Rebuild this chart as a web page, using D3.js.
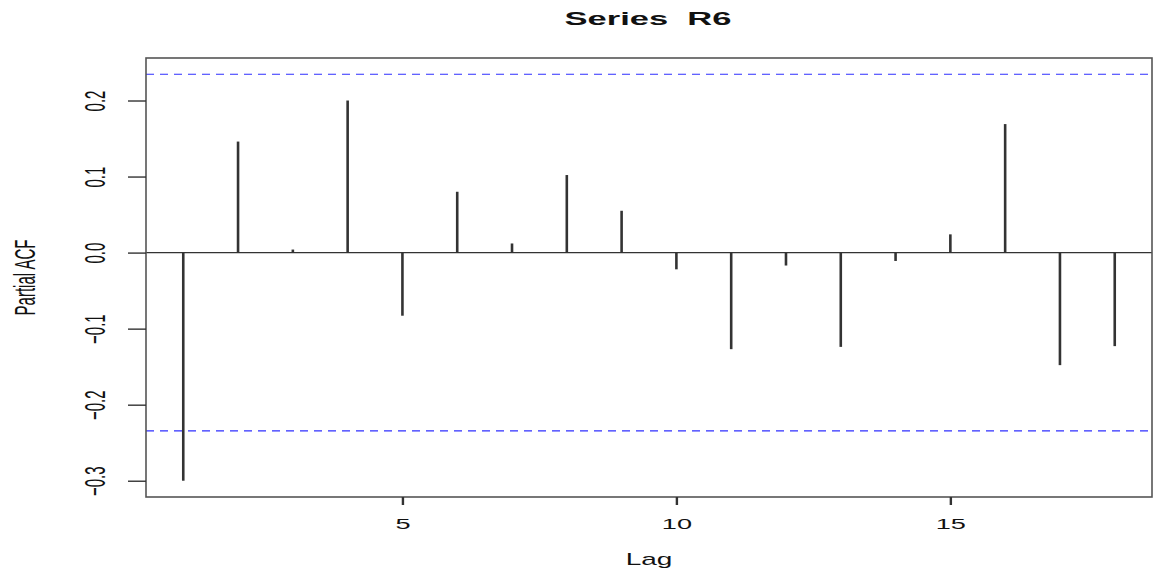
<!DOCTYPE html>
<html>
<head>
<meta charset="utf-8">
<script src="https://cdn.jsdelivr.net/npm/d3@7"></script>
<style>
  body { margin: 0; background: #fff; }
  svg { display: block; }
  text { font-family: "Liberation Sans", Arial, sans-serif; fill: #111; }
</style>
</head>
<body>
<div id="graph"></div>
<script>
// partial autocorrelation, lags 1..18
let lags = [1, 2, 3, 4, 5, 6, 7, 8, 9, 10, 11, 12, 13, 14, 15, 16, 17, 18];
let pacf = [-0.300, 0.146, 0.004, 0.200, -0.083, 0.080, 0.012, 0.102, 0.055,
            -0.022, -0.127, -0.017, -0.124, -0.011, 0.024, 0.169, -0.148, -0.123];
let clim = [0.2345, -0.2345];
let xTicks = [5, 10, 15];
let yTicks = [-0.3, -0.2, -0.1, 0.0, 0.1, 0.2];

let width = 1154, height = 571;
let margin = {top: 58, right: 2, bottom: 74, left: 146};
let sx = 1.75;   // the picture is stretched sideways

let svg = d3.select("#graph")
    .append("svg")
    .attr("width", width)
    .attr("height", height);

let x = d3.scaleLinear()
    .domain([0.32, 18.68])
    .range([margin.left, width - margin.right]);

let y = d3.scaleLinear()
    .domain([-0.3214, 0.2559])
    .range([height - margin.bottom, margin.top]);

// zero line
svg.append("line")
    .attr("x1", margin.left).attr("x2", width - margin.right)
    .attr("y1", y(0)).attr("y2", y(0))
    .attr("stroke", "#333").attr("stroke-width", 1.2);

// confidence limits
svg.selectAll(".clim").data(clim).enter()
    .append("line")
    .attr("class", "clim")
    .attr("x1", margin.left).attr("x2", width - margin.right)
    .attr("y1", d => y(d)).attr("y2", d => y(d))
    .attr("stroke", "#2f2fff").attr("stroke-width", 1.2)
    .attr("stroke-dasharray", "8,6");

// spikes
svg.selectAll(".spike").data(pacf).enter()
    .append("line")
    .attr("class", "spike")
    .attr("x1", (d, i) => x(lags[i])).attr("x2", (d, i) => x(lags[i]))
    .attr("y1", y(0)).attr("y2", d => y(d))
    .attr("stroke", "#333").attr("stroke-width", 2.6);

// frame
svg.append("rect")
    .attr("x", margin.left).attr("y", margin.top)
    .attr("width", width - margin.left - margin.right)
    .attr("height", height - margin.top - margin.bottom)
    .attr("fill", "none").attr("stroke", "#555").attr("stroke-width", 1.6);

// y axis
let yAxis = svg.append("g")
    .attr("transform", `translate(${margin.left},0)`)
    .call(d3.axisLeft(y).tickValues(yTicks).tickFormat(d3.format(".1f")).tickSize(18));
yAxis.select(".domain").remove();
yAxis.selectAll("line").attr("stroke", "#333").attr("stroke-width", 1.4);
yAxis.selectAll("text")
    .attr("x", null).attr("dy", null)
    .attr("transform", `translate(-41,0) scale(${sx + 0.25},1) rotate(-90)`)
    .style("text-anchor", "middle")
    .style("font-size", "15px")
    .style("font-family", "Liberation Sans, Arial, sans-serif")
    .attr("fill", "#111");

// x axis
let xAxis = svg.append("g")
    .attr("transform", `translate(0,${height - margin.bottom})`)
    .call(d3.axisBottom(x).tickValues(xTicks).tickSize(8));
xAxis.select(".domain").remove();
xAxis.selectAll("line").attr("stroke", "#333").attr("stroke-width", 2.4);
xAxis.selectAll("text")
    .attr("y", null).attr("dy", null)
    .attr("transform", `translate(0,32) scale(${sx},1)`)
    .style("text-anchor", "middle")
    .style("font-size", "15.5px")
    .style("font-family", "Liberation Sans, Arial, sans-serif")
    .attr("fill", "#111");

// labels
svg.append("text")
    .attr("transform", `translate(${(margin.left + width - margin.right) / 2},565) scale(${sx},1)`)
    .style("text-anchor", "middle")
    .style("font-size", 16)
    .text("Lag");

svg.append("text")
    .attr("transform", `translate(35,${(margin.top + height - margin.bottom) / 2}) scale(2.0,1) rotate(-90)`)
    .style("text-anchor", "middle")
    .style("font-size", 15)
    .text("Partial ACF");

svg.append("text")
    .attr("x", 648).attr("y", 25)
    .attr("textLength", 167)
    .attr("lengthAdjust", "spacingAndGlyphs")
    .style("white-space", "pre")
    .style("text-anchor", "middle")
    .style("font-size", 18)
    .style("font-weight", "bold")
    .text("Series  R6");
</script>
</body>
</html>
